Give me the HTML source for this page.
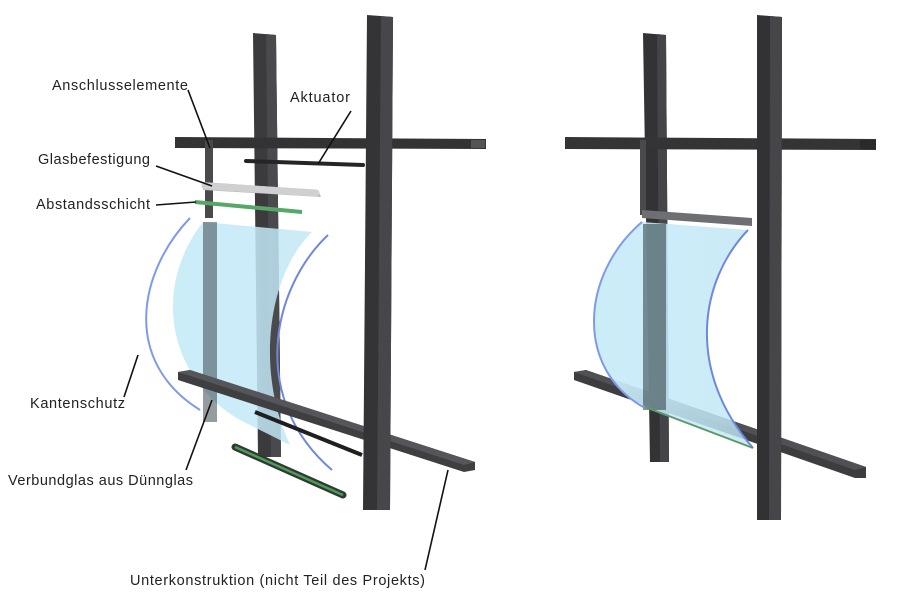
<!DOCTYPE html>
<html><head><meta charset="utf-8"><style>
html,body{margin:0;padding:0;background:#fff;}
svg{display:block;}
text{font-family:"Liberation Sans",sans-serif;font-size:14.5px;fill:#222;}
</style></head><body>
<svg width="900" height="610" viewBox="0 0 900 610" xmlns="http://www.w3.org/2000/svg">
<defs>
<linearGradient id="g1" x1="0" x2="1" y1="0" y2="0"><stop offset="0" stop-color="#c8ecf8" stop-opacity=".95"/><stop offset="1" stop-color="#bfe6f5" stop-opacity=".8"/></linearGradient>
</defs>
<!-- LEFT FIGURE -->
<polygon points="253,33 276,35 281,457 258,457" fill="#3b3b3e"/>
<polygon points="266,34 276,35 281,457 271,457" fill="#4a4a4e"/>
<polygon points="175,137 486,139 486,149 175,148" fill="#333336"/>
<rect x="471" y="140" width="14" height="8" fill="#555"/>
<rect x="205" y="140" width="8" height="78" fill="#4a4a4d"/>
<line x1="246" y1="161" x2="363" y2="165" stroke="#252527" stroke-width="4" stroke-linecap="round"/>
<polygon points="203,182 318,190 321,197 203,190" fill="#b8b9bb"/>
<line x1="205" y1="186" x2="316" y2="193" stroke="#cfd0d2" stroke-width="7" stroke-linecap="round"/>
<line x1="195" y1="202" x2="302" y2="212" stroke="#56a866" stroke-width="4"/>
<!-- glass -->
<path d="M203,222 L312,232 C268,275 255,370 290,445 L240,420 C170,380 150,290 203,222 Z" fill="url(#g1)"/>
<rect x="203" y="222" width="14" height="200" fill="#3c4a50" opacity=".55"/>
<path d="M190,218 C140,270 120,360 200,410" fill="none" stroke="#7f9ae8" stroke-width="2"/>
<path d="M328,235 C270,290 250,400 332,470" fill="none" stroke="#6f88dc" stroke-width="2"/>
<polygon points="178,372 190,370 475,462 475,470 464,472 178,380" fill="#3f3f42"/>
<polygon points="178,372 190,370 475,462 464,465" fill="#55555a"/>
<line x1="255" y1="412" x2="362" y2="455" stroke="#1f1f21" stroke-width="4"/>
<polygon points="367,15 393,17 390,510 363,510" fill="#343437"/>
<polygon points="381,16 393,17 390,510 377,510" fill="#47474b"/>
<line x1="235" y1="447" x2="343" y2="495" stroke="#2f3a30" stroke-width="7" stroke-linecap="round"/>
<line x1="235" y1="447" x2="343" y2="495" stroke="#4e9b5b" stroke-width="2.5"/>
<g stroke="#111" stroke-width="1.6" fill="none">
<line x1="188" y1="90" x2="210" y2="148"/>
<line x1="351" y1="111" x2="318" y2="164"/>
<line x1="156" y1="166" x2="212" y2="186"/>
<line x1="156" y1="205" x2="196" y2="202"/>
<line x1="124" y1="397" x2="138" y2="355"/>
<line x1="186" y1="470" x2="212" y2="400"/>
<line x1="425" y1="570" x2="448" y2="470"/>
</g>
<text x="52" y="90" textLength="136">Anschlusselemente</text>
<text x="290" y="102" textLength="60">Aktuator</text>
<text x="38" y="164" textLength="112">Glasbefestigung</text>
<text x="36" y="209" textLength="114">Abstandsschicht</text>
<text x="30" y="408" textLength="95">Kantenschutz</text>
<text x="8" y="485" textLength="185">Verbundglas aus Dünnglas</text>
<text x="130" y="585" textLength="295">Unterkonstruktion (nicht Teil des Projekts)</text>

<!-- RIGHT FIGURE -->
<polygon points="643,33 666,35 669,462 650,462" fill="#333336"/>
<polygon points="657,34 666,35 669,462 660,462" fill="#454549"/>
<polygon points="565,137 876,139 876,150 565,149" fill="#343437"/>
<rect x="860" y="140" width="16" height="9" fill="#2a2a2c"/>
<rect x="640" y="140" width="6" height="75" fill="#4a4a4d"/>
<polygon points="574,372 586,370 866,467 866,478 855,478 574,380" fill="#3d3d40"/>
<polygon points="574,372 586,370 866,467 855,470" fill="#505055"/>
<path d="M642,222 L748,230 C700,280 685,370 753,448 L645,408 C580,370 575,280 642,222 Z" fill="url(#g1)"/>
<rect x="643" y="224" width="23" height="186" fill="#3a4a50" opacity=".6"/>
<path d="M642,222 C580,275 575,370 645,408" fill="none" stroke="#7f9ae8" stroke-width="2"/>
<path d="M748,230 C700,280 685,370 753,448" fill="none" stroke="#6f88dc" stroke-width="2"/>
<line x1="645" y1="407" x2="753" y2="448" stroke="#5a9a66" stroke-width="2"/>
<polygon points="642,210 752,218 752,226 642,218" fill="#6e6f72"/>
<polygon points="757,15 782,17 781,520 757,520" fill="#323235"/>
<polygon points="770,16 782,17 781,520 769,520" fill="#45454a"/>
</svg>
</body></html>
